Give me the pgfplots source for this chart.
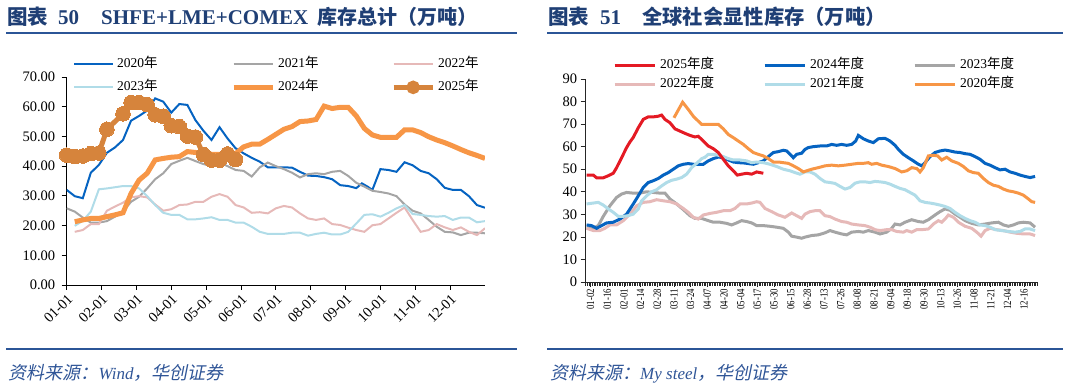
\documentclass[border=0pt]{standalone}
\usepackage{fontspec}
\setmainfont{Liberation Serif}
\newfontfamily\cjk{Noto Sans CJK SC}
\newfontfamily\cjkit{Noto Sans CJK SC}[FakeSlant=0.2]
\usepackage{pgfplots}
\pgfplotsset{compat=1.18}
\definecolor{titleblue}{RGB}{31,63,117}
\definecolor{ruleblue}{RGB}{43,85,151}
\definecolor{srcblue}{RGB}{47,85,151}
\definecolor{cBlue}{RGB}{5,99,193}
\definecolor{cGray}{RGB}{165,165,165}
\definecolor{cPink}{RGB}{230,185,184}
\definecolor{cLB}{RGB}{176,220,232}
\definecolor{cOr}{RGB}{247,150,70}
\definecolor{cOrD}{RGB}{214,132,60}
\definecolor{cRed}{RGB}{228,26,36}
\newcommand\xl[1]{\scalebox{0.8}[1]{#1}}
\begin{document}
\begin{tikzpicture}
% ---------- left chart ----------
\begin{axis}[
  at={(66.7pt,103pt)}, anchor=south west, scale only axis,
  width=418.3pt, height=208pt,
  xmin=0, xmax=52, ymin=0, ymax=70,
  axis lines*=left, axis line style={-, black, line width=0.8pt},
  tick align=outside, xtick pos=bottom, ytick pos=left,
  major tick length=5pt, tick style={black, line width=0.8pt},
  xtick={0,4.3333,8.6667,13,17.3333,21.6667,26,30.3333,34.6667,39,43.3333,47.6667},
  xticklabels={01-01,02-01,03-01,04-01,05-01,06-01,07-01,08-01,09-01,10-01,11-01,12-01},
  ytick={0,10,...,70},
  /pgf/number format/assume math mode=true,
  ticklabel style={font=\fontsize{14.5}{14.5}\selectfont},
  yticklabel style={xshift=-3pt, /pgf/number format/.cd, fixed, fixed zerofill, precision=2},
  xticklabel style={rotate=45, anchor=north east, inner sep=2pt},
  legend columns=3,
  legend cell align=left,
  legend style={at={(0.015,1.094)}, anchor=north west, draw=none, fill=none, inner sep=0pt,
    nodes={inner sep=0pt, text height=10pt, text depth=3pt, font=\fontsize{13.5}{13.5}\selectfont},
    row sep=10pt,
    /tikz/every odd column/.append style={column sep=3pt}},
  legend image code/.code={\draw[#1] (0pt,0pt) -- (39pt,0pt);},
]
\addplot[cBlue, line width=2pt] coordinates {(0,32.0)(1,29.9)(2,29.2)(3,37.8)(4,40.4)(5,44.5)(6,46.3)(7,48.8)(8,55.3)(9,56.9)(10,58.7)(11,62.8)(12,61.7)(13,58.0)(14,60.9)(15,60.6)(16,55.5)(17,51.9)(18,48.8)(19,53.1)(20,49.3)(21,46.0)(22,44.3)(23,42.8)(24,41.5)(25,39.6)(26,39.6)(27,39.6)(28,39.5)(29,38.1)(30,36.8)(31,36.7)(32,36.3)(33,35.6)(34,33.6)(35,33.3)(36,32.6)(36.7,34.2)(37.4,33.1)(38,32.0)(39,39.0)(40,38.7)(41,38.1)(42,41.3)(43,40.3)(44,38.4)(45,37.6)(46,35.6)(47,32.7)(48,32.0)(49,32.0)(50,29.9)(51,26.9)(52,26.0)};
\addlegendentry{\makebox[114pt][l]{2020{\cjk 年}}}
\addplot[cGray, line width=2pt] coordinates {(0,25.8)(1,24.7)(2,22.7)(3,21.0)(4,21.0)(5,21.5)(6,23.0)(7,24.7)(8,28.0)(9,29.7)(10,32.5)(11,35.6)(12,37.6)(13,40.7)(14,41.8)(15,42.8)(16,41.7)(17,40.7)(18,40.0)(19,41.2)(20,40.0)(21,38.7)(22,38.4)(23,36.5)(24,39.6)(25,41.2)(26,40.0)(27,39.0)(28,37.8)(29,36.2)(30,37.3)(31,37.6)(32,37.3)(33,38.1)(34,38.4)(35,36.7)(36,34.4)(37,33.1)(38,31.7)(39,31.3)(40,30.8)(41,29.9)(42,27.1)(43,25.0)(44,24.1)(45,21.9)(46,19.6)(47,17.9)(48,17.7)(49,16.8)(50,17.6)(51,17.6)(52,17.4)};
\addlegendentry{\makebox[113pt][l]{2021{\cjk 年}}}
\addplot[cPink, line width=2pt] coordinates {(1,17.9)(2,18.5)(3,20.5)(4,20.5)(5,25.0)(6,26.4)(7,27.7)(8,29.5)(9,29.9)(10,29.5)(11,27.1)(12,25.0)(13,25.5)(14,26.9)(15,27.1)(16,28.0)(17,28.0)(18,29.7)(19,30.6)(20,29.7)(21,26.9)(22,26.1)(23,24.3)(24,24.5)(25,24.1)(26,25.8)(27,26.6)(28,26.1)(29,24.1)(30,22.4)(31,21.9)(32,22.4)(33,20.5)(34,20.2)(35,19.3)(36,18.5)(37,17.9)(38,20.1)(39,20.5)(40,22.4)(41,24.3)(42,26.1)(43,21.9)(44,17.9)(45,18.5)(46,20.5)(47,19.4)(48,18.5)(49,19.4)(50,17.9)(51,16.8)(52,19.1)};
\addlegendentry{\makebox[50pt][l]{2022{\cjk 年}}}
\addplot[cLB, line width=2pt] coordinates {(1,19.9)(2,21.6)(3,24.7)(4,32.2)(5,32.5)(6,32.9)(7,33.3)(8,33.3)(9,32.5)(10,29.9)(11,26.9)(12,24.3)(13,23.6)(14,23.6)(15,22.1)(16,22.1)(17,22.4)(18,22.8)(19,21.9)(20,21.9)(21,21.0)(22,21.0)(23,19.6)(24,17.9)(25,17.2)(26,17.2)(27,17.2)(28,17.6)(29,17.6)(30,16.6)(31,17.2)(32,17.6)(33,17.0)(34,17.0)(35,17.9)(36,20.7)(37,23.6)(38,23.8)(39,23.0)(40,24.3)(41,25.8)(42,26.9)(43,23.9)(44,23.6)(45,23.2)(46,23.0)(47,23.2)(48,21.9)(49,22.7)(50,22.7)(51,21.1)(52,21.5)};
\addlegendentry{\makebox[114pt][l]{2023{\cjk 年}}}
\addplot[cOr, line width=5pt] coordinates {(1,21.3)(2,21.9)(3,22.4)(4,22.4)(5,23.0)(6,23.6)(7,24.3)(8,30.8)(9,35.3)(10,37.6)(11,42.1)(12,42.6)(13,43.0)(14,43.2)(15,44.9)(16,44.6)(17,44.3)(18,44.0)(19,44.0)(20,44.0)(21,44.2)(22,46.5)(23,47.4)(24,47.4)(25,49.0)(26,50.7)(27,52.4)(28,53.3)(29,55.0)(30,55.2)(31,55.7)(32,60.2)(33,59.4)(34,59.8)(35,59.8)(36,56.9)(37,52.7)(38,50.5)(39,49.7)(40,49.7)(41,49.7)(42,52.2)(43,52.2)(44,51.3)(45,49.9)(46,48.8)(47,47.9)(48,46.8)(49,45.6)(50,44.5)(51,43.6)(52,42.6)};
\addlegendentry{\makebox[113pt][l]{2024{\cjk 年}}}
\addplot[cOrD, line width=5pt, mark=*, mark size=7.3pt, mark options={fill=cOrD, draw=cOrD, line width=0pt},
  legend image code/.code={\draw[cOrD, line width=5pt] (0pt,0pt) -- (39pt,0pt); \fill[cOrD] (19.5pt,0pt) circle (4.2pt);}]
  coordinates {(0,43.7)(1,43.2)(2,43.4)(3,44.2)(4,44.4)(5,52.4)(7,57.6)(8,61.4)(9,61.4)(10,60.7)(11,57.3)(12,56.8)(13,53.6)(14,53.3)(15,50.1)(16,49.8)(17,43.9)(18,42.0)(19,42.0)(20,44.1)(21,42.2)};
\addlegendentry{\makebox[50pt][l]{2025{\cjk 年}}}
\end{axis}
% ---------- right chart ----------
\begin{axis}[
  at={(585.6pt,106pt)}, anchor=south west, scale only axis,
  width=451.8pt, height=203pt,
  xmin=0, xmax=271, ymin=0, ymax=90,
  axis lines*=left, axis line style={-, black!85, line width=0.8pt},
  tick align=outside, xtick pos=bottom, ytick pos=left,
  major tick length=5pt, minor tick length=4pt,
  tick style={black!85, line width=0.6pt},
  xtick={3,13,...,263},
  minor xtick={0,1,...,271},
  xticklabels={\xl{01-02},\xl{01-16},\xl{02-01},\xl{02-14},\xl{02-28},\xl{03-11},\xl{03-24},\xl{04-07},\xl{04-20},\xl{05-04},\xl{05-17},\xl{05-30},\xl{06-15},\xl{06-28},\xl{07-13},\xl{07-26},\xl{08-08},\xl{08-21},\xl{09-04},\xl{09-18},\xl{09-30},\xl{10-13},\xl{10-26},\xl{11-08},\xl{11-21},\xl{12-04},\xl{12-16}},
  ytick={0,10,...,90},
  /pgf/number format/assume math mode=true,
  yticklabel style={font=\fontsize{14.5}{14.5}\selectfont},
  xticklabel style={rotate=90, anchor=east, inner sep=2pt, font=\fontsize{11}{11}\selectfont},
  legend columns=3,
  legend cell align=left,
  legend style={at={(0.0607,1.101)}, anchor=north west, draw=none, fill=none, inner sep=0pt,
    nodes={inner sep=0pt, text height=10pt, text depth=3pt, font=\fontsize{13.5}{13.5}\selectfont},
    row sep=6pt,
    /tikz/every odd column/.append style={column sep=4pt}},
  legend image code/.code={\draw[#1] (0pt,0pt) -- (40pt,0pt);},
  every axis plot/.append style={line width=3pt},
]
\addlegendimage{cRed, line width=3pt}
\addlegendentry{\makebox[103pt][l]{2025{\cjk 年度}}}
\addlegendimage{cBlue, line width=3pt}
\addlegendentry{\makebox[103pt][l]{2024{\cjk 年度}}}
\addlegendimage{cGray, line width=3pt}
\addlegendentry{\makebox[50pt][l]{2023{\cjk 年度}}}
\addlegendimage{cPink, line width=3pt}
\addlegendentry{\makebox[103pt][l]{2022{\cjk 年度}}}
\addlegendimage{cLB, line width=3pt}
\addlegendentry{\makebox[103pt][l]{2021{\cjk 年度}}}
\addlegendimage{cOr, line width=3pt}
\addlegendentry{\makebox[50pt][l]{2020{\cjk 年度}}}
\addplot[cGray, forget plot] coordinates {(0.6,24.3)(4.6,23.8)(7.6,25.0)(10.6,29.1)(14.6,33.8)(18.6,37.5)(21.6,39.0)(24.6,39.7)(28.6,39.4)(32.6,39.4)(36.6,40.0)(40.6,39.7)(44.6,39.4)(47.6,39.4)(50.6,36.8)(54.6,34.6)(58.6,32.1)(62.6,29.4)(65.6,28.2)(69.6,28.2)(73.6,27.2)(76.6,26.5)(80.6,26.5)(84.6,26.0)(87.6,25.3)(90.6,26.2)(93.6,27.2)(96.6,26.8)(99.6,26.2)(102.6,25.0)(106.6,25.0)(110.6,24.7)(114.6,24.3)(118.6,23.8)(121.6,22.1)(123.6,20.3)(126.6,19.9)(129.6,19.4)(131.6,19.9)(135.6,20.6)(139.6,20.9)(143.6,21.8)(146.6,22.8)(149.6,22.1)(153.6,21.3)(156.6,20.9)(159.6,22.1)(163.6,22.4)(166.6,22.1)(169.6,22.8)(173.6,22.1)(176.6,21.3)(180.6,22.1)(183.6,23.8)(185.6,25.7)(188.6,25.3)(191.6,26.5)(195.6,27.6)(199.6,26.8)(202.6,26.5)(205.6,27.6)(209.6,29.7)(212.6,31.2)(215.6,32.4)(218.6,31.8)(221.6,30.1)(224.6,28.7)(227.6,27.2)(231.6,26.0)(235.6,25.3)(239.6,25.7)(243.6,26.2)(247.6,26.5)(250.6,25.3)(253.6,24.7)(256.6,25.3)(259.6,26.2)(262.6,26.5)(266.6,26.2)(269.6,24.3)};
\addplot[cPink, forget plot] coordinates {(0.6,23.8)(4.6,22.8)(8.6,22.8)(11.6,23.8)(14.6,25.3)(18.6,25.3)(22.6,27.2)(26.6,30.1)(30.6,33.8)(34.6,35.3)(38.6,35.6)(42.6,36.5)(46.6,36.0)(50.6,35.6)(54.6,34.6)(58.6,32.6)(61.6,30.9)(64.6,28.7)(67.6,27.9)(70.6,29.7)(74.6,30.4)(78.6,30.9)(82.6,31.6)(86.6,31.6)(89.6,32.6)(92.6,34.6)(96.6,34.6)(99.6,35.0)(102.6,35.6)(104.6,35.3)(107.6,32.6)(111.6,31.2)(115.6,29.7)(119.6,28.7)(123.6,30.6)(126.6,29.4)(129.6,28.2)(131.6,30.1)(134.6,31.2)(137.6,31.6)(140.6,31.6)(143.6,29.4)(146.6,29.0)(149.6,27.9)(153.6,26.8)(156.6,26.5)(159.6,25.7)(163.6,25.3)(167.6,25.0)(170.6,24.3)(173.6,23.2)(176.6,22.8)(180.6,23.2)(183.6,23.2)(186.6,22.4)(190.6,22.1)(192.6,22.8)(195.6,22.1)(198.6,23.2)(201.6,23.2)(205.6,23.5)(208.6,25.7)(211.6,27.2)(213.6,26.5)(215.6,27.9)(217.6,29.7)(220.6,28.7)(223.6,26.5)(227.6,24.7)(231.6,23.8)(234.6,22.1)(237.2,20.3)(239.6,22.8)(242.6,23.8)(246.6,23.2)(250.6,22.8)(254.6,22.1)(258.6,21.6)(262.6,21.3)(266.6,21.3)(269.6,20.6)};
\addplot[cBlue, forget plot] coordinates {(0.6,25.3)(3.6,25.0)(6.6,23.8)(9.6,25.0)(12.6,26.2)(16.6,26.5)(20.6,27.9)(24.6,30.1)(28.6,34.6)(31.6,38.2)(34.6,41.9)(37.6,44.1)(40.6,44.9)(43.6,45.9)(46.6,47.4)(49.6,48.5)(52.6,50.0)(55.6,51.5)(58.6,52.2)(61.6,52.5)(64.6,52.2)(67.6,52.2)(70.6,52.2)(73.6,53.7)(76.6,54.7)(79.6,55.4)(82.6,55.1)(85.6,54.1)(88.6,53.2)(91.6,52.9)(94.6,52.8)(97.6,52.5)(100.6,52.2)(103.6,52.9)(106.6,53.7)(109.6,55.6)(112.6,57.4)(115.6,57.8)(118.6,58.4)(120.6,58.1)(122.6,56.6)(124.6,55.1)(126.6,56.6)(129.6,57.1)(131.6,58.8)(133.6,59.6)(136.6,60.0)(140.6,60.3)(144.6,60.3)(147.6,61.0)(150.6,60.6)(153.6,61.0)(156.6,60.6)(159.6,61.0)(162,62.5)(163.6,65.0)(166.6,63.5)(169.6,62.5)(172.6,61.8)(175.6,63.5)(179.6,63.7)(182.6,62.5)(185.6,60.6)(187.6,58.8)(190.6,56.6)(193.6,55.1)(196.6,53.7)(199.6,52.2)(201.6,51.5)(203.6,52.9)(206.6,55.6)(209.6,57.4)(212.6,58.1)(215.6,58.5)(218.6,58.1)(221.6,57.6)(224.6,57.4)(227.6,56.9)(230.6,56.6)(233.6,55.6)(236.6,54.4)(239.6,52.6)(242.6,51.8)(245.6,50.7)(248.6,49.7)(251.6,50.0)(254.6,48.8)(257.6,48.2)(260.6,47.4)(263.6,46.8)(266.6,46.3)(269.6,46.8)};
\addplot[cLB, forget plot] coordinates {(0.6,34.6)(4.6,35.0)(7.6,35.3)(10.6,34.1)(13.6,32.4)(16.6,30.9)(19.6,29.1)(22.6,29.1)(25.6,29.4)(28.6,30.1)(31.6,32.4)(33.6,36.0)(36.6,38.2)(39.6,40.0)(42.6,40.9)(45.6,42.6)(48.6,44.1)(51.6,45.1)(54.6,45.6)(57.6,46.3)(60.6,47.8)(63.6,50.7)(66.6,52.6)(69.6,54.7)(71.6,55.3)(73.6,56.6)(76.6,56.6)(79.6,56.2)(82.6,55.6)(85.6,54.7)(88.6,54.1)(92.6,54.1)(96.6,53.7)(99.6,52.9)(102.6,53.2)(106.6,52.9)(110.6,52.2)(114.6,51.2)(118.6,50.0)(122.6,49.3)(125.6,48.5)(128.6,47.8)(131.6,48.8)(134.6,48.8)(137.6,47.8)(140.6,45.9)(143.6,44.4)(146.6,44.1)(149.6,43.7)(152.6,42.4)(155.6,41.2)(158.6,41.9)(161.6,43.8)(164.6,44.4)(167.6,44.4)(170.6,44.1)(173.6,44.6)(176.6,44.4)(179.6,44.1)(182.6,43.4)(185.6,42.4)(188.6,41.5)(191.6,40.9)(194.6,39.7)(197.6,38.5)(200.6,36.0)(203.6,35.3)(206.6,35.0)(209.6,34.6)(212.6,34.1)(215.6,33.5)(218.6,32.6)(221.6,30.9)(224.6,29.4)(227.6,28.2)(230.6,27.2)(233.6,26.5)(236.6,25.3)(239.6,25.0)(242.6,24.3)(245.6,23.2)(249.6,22.8)(253.6,22.4)(257.6,22.1)(260.6,22.4)(263.6,23.5)(266.6,23.5)(269.6,22.8)};
\addplot[cOr, forget plot] coordinates {(53,72.8)(58.2,79.7)(61.6,76.5)(64.6,73.5)(67.6,71.3)(69.6,69.9)(73.6,69.9)(79.6,69.9)(82.6,67.9)(85.6,65.4)(88.6,64.0)(91.6,62.5)(94.6,61.0)(97.6,59.1)(100.6,57.4)(103.6,56.6)(106.6,55.9)(109.6,54.7)(112.6,53.2)(115.6,53.2)(118.6,52.9)(121.6,52.6)(124.6,51.5)(127.6,50.3)(130.6,48.8)(132.6,49.3)(135.6,50.0)(139.6,50.7)(143.6,51.5)(147.6,51.8)(151.6,51.5)(155.6,51.8)(159.6,52.2)(163.6,52.6)(166.6,52.6)(169.6,52.9)(171.6,52.2)(174.6,52.6)(177.6,51.8)(181.6,51.2)(185.6,50.3)(189.6,48.8)(192.6,49.3)(195.6,50.7)(198.6,50.3)(200.6,48.8)(202.6,50.7)(205.6,55.9)(208.6,56.2)(211.2,55.9)(213.6,54.1)(216.6,55.3)(219.6,53.7)(223.6,52.6)(226.6,51.2)(229.6,49.3)(232.6,48.5)(235.6,48.2)(238.6,45.9)(241.6,44.1)(244.6,42.9)(247.6,42.4)(250.6,41.2)(253.6,40.4)(256.6,40.0)(259.6,39.4)(262.6,38.5)(265.6,36.8)(267.6,35.6)(269.6,35.3)};
\addplot[cRed, forget plot] coordinates {(0.6,47.4)(4.6,47.4)(6.6,46.2)(10.6,46.2)(13.6,47.1)(16.6,48.2)(18.6,50.7)(21.6,55.1)(24.6,59.6)(26.6,62.1)(28.6,64.1)(31.6,68.4)(34.6,72.1)(37.6,73.2)(40.6,73.2)(43.6,73.5)(45.6,74.0)(47.6,72.1)(50.6,70.6)(53.6,67.9)(56.6,66.9)(59.6,65.9)(62.6,65.0)(65.6,64.3)(67.6,64.6)(70.6,62.5)(73.6,60.3)(76.6,59.1)(79.6,57.4)(82.6,54.4)(85.6,51.5)(88.6,49.3)(91.0,47.4)(93.6,47.8)(96.6,48.2)(99.6,47.8)(102.6,48.8)(106.6,48.2)};
\end{axis}
% ---------- titles, rules, sources ----------
\begin{scope}[every node/.style={anchor=base west, inner sep=0pt, text=titleblue}]
\node[font=\fontsize{20.5}{20.5}\selectfont\bfseries] at (7pt,363.6pt) {{\cjk 图表}};
\node[font=\fontsize{21}{21}\selectfont\bfseries] at (58pt,363.6pt) {50};
\node[font=\fontsize{21}{21}\selectfont\bfseries] at (101pt,363.6pt) {SHFE+LME+COMEX};
\node[font=\fontsize{20}{20}\selectfont\bfseries] at (317pt,363.6pt) {{\cjk 库存总计（万吨）}};
\node[font=\fontsize{20.5}{20.5}\selectfont\bfseries] at (548pt,363.6pt) {{\cjk 图表}};
\node[font=\fontsize{21}{21}\selectfont\bfseries] at (600pt,363.6pt) {51};
\node[font=\fontsize{20.3}{20.3}\selectfont\bfseries] at (642pt,363.6pt) {{\cjk 全球社会显性库存（万吨）}};
\end{scope}
\draw[ruleblue, line width=2.2pt] (6pt,355pt) -- (517pt,355pt);
\draw[ruleblue, line width=2.2pt] (547pt,355pt) -- (1063pt,355pt);
\draw[ruleblue, line width=2.2pt] (6pt,39.3pt) -- (517pt,39.3pt);
\draw[ruleblue, line width=2.2pt] (547pt,39.3pt) -- (1063pt,39.3pt);
\begin{scope}[every node/.style={anchor=base west, inner sep=0pt, text=srcblue, font=\fontsize{17}{17}\selectfont}]
\node at (8.5pt,8pt) {{\cjkit\fontsize{18}{18}\selectfont 资料来源：}\textit{Wind}{\cjkit\fontsize{18}{18}\selectfont ，华创证券}};
\node at (550pt,8pt) {{\cjkit\fontsize{18}{18}\selectfont 资料来源：}\textit{My steel}{\cjkit\fontsize{18}{18}\selectfont ，华创证券}};
\end{scope}
\pgfresetboundingbox
\path[use as bounding box] (0pt,0pt) rectangle (1066pt,388pt);
\end{tikzpicture}
\end{document}
